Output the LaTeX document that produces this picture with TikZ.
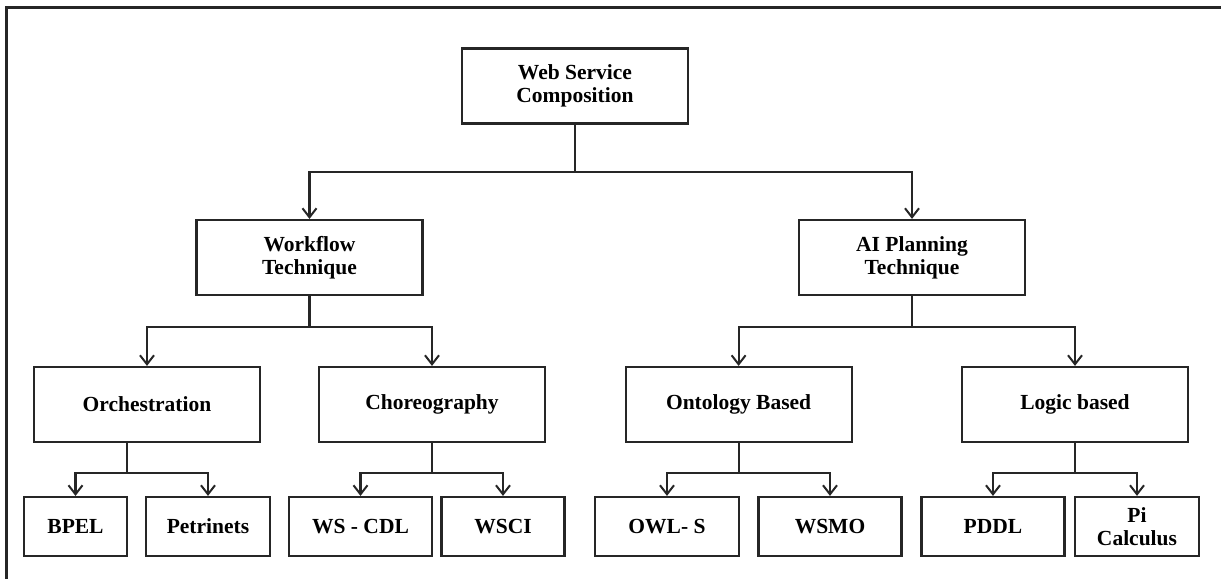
\documentclass[tikz,border=0pt]{standalone}
\usepackage{fontspec}
\setmainfont{Liberation Serif}
\usetikzlibrary{arrows.meta}
\begin{document}
\begin{tikzpicture}[x=1pt,y=-1pt,
  box/.style={draw=black!85, line width=2.2pt, inner sep=0pt, align=center,
    font=\fontsize{21.5}{23}\selectfont\bfseries},
  big/.style={box, minimum width=226pt, minimum height=75pt},
  leaf/.style={box, minimum height=59pt},
  conn/.style={draw=black!85, line width=2.2pt},
  arr/.style={conn, -{Straight Barb[length=9pt,width=14pt,line width=2pt]}}]
\useasboundingbox (0,0) rectangle (1221,579);
\draw[line width=3pt, black!85] (1221,7) -- (6,7) -- (6,579);
% nodes
\node[big] (wsc) at (575,86) {Web Service\\Composition};
\node[big] (wf) at (309.5,257.5) {Workflow\\Technique};
\node[big] (ai) at (912,257.5) {AI Planning\\Technique};
\node[big] (orch) at (147,404.5) {Orchestration};
\node[big] (chor) at (432,404.5) {Choreography};
\node[big] (onto) at (738.6,404.5) {Ontology Based};
\node[big] (logic) at (1075,404.5) {Logic based};
\node[leaf, minimum width=103pt] (bpel) at (75.5,526.5) {BPEL};
\node[leaf, minimum width=124pt] (petri) at (208,526.5) {Petrinets};
\node[leaf, minimum width=143pt] (wscdl) at (360.5,526.5) {WS - CDL};
\node[leaf, minimum width=123pt] (wsci) at (503,526.5) {WSCI};
\node[leaf, minimum width=144pt] (owls) at (667,526.5) {OWL- S};
\node[leaf, minimum width=143pt] (wsmo) at (830,526.5) {WSMO};
\node[leaf, minimum width=143pt] (pddl) at (993,526.5) {PDDL};
\node[leaf, minimum width=124pt] (pi) at (1137,526.5) {Pi\\Calculus};
% junctions
\coordinate (j0) at (575,172);
\coordinate (j1) at (309.5,327);
\coordinate (j2) at (912,327);
\coordinate (j3) at (127,473);
\coordinate (j4) at (432,473);
\coordinate (j5) at (738.6,473);
\coordinate (j6) at (1075,473);
% connectors
\draw[conn] (wsc.south) -- (j0);
\draw[arr] (j0) -| (wf.north);
\draw[arr] (j0) -| (ai.north);
\draw[conn] (wf.south) -- (j1);
\draw[arr] (j1) -| (orch.north);
\draw[arr] (j1) -| (chor.north);
\draw[conn] (ai.south) -- (j2);
\draw[arr] (j2) -| (onto.north);
\draw[arr] (j2) -| (logic.north);
\draw[conn] (orch.south -| j3) -- (j3);
\draw[arr] (j3) -| (bpel.north);
\draw[arr] (j3) -| (petri.north);
\draw[conn] (chor.south) -- (j4);
\draw[arr] (j4) -| (wscdl.north);
\draw[arr] (j4) -| (wsci.north);
\draw[conn] (onto.south) -- (j5);
\draw[arr] (j5) -| (owls.north);
\draw[arr] (j5) -| (wsmo.north);
\draw[conn] (logic.south) -- (j6);
\draw[arr] (j6) -| (pddl.north);
\draw[arr] (j6) -| (pi.north);
\end{tikzpicture}
\end{document}
